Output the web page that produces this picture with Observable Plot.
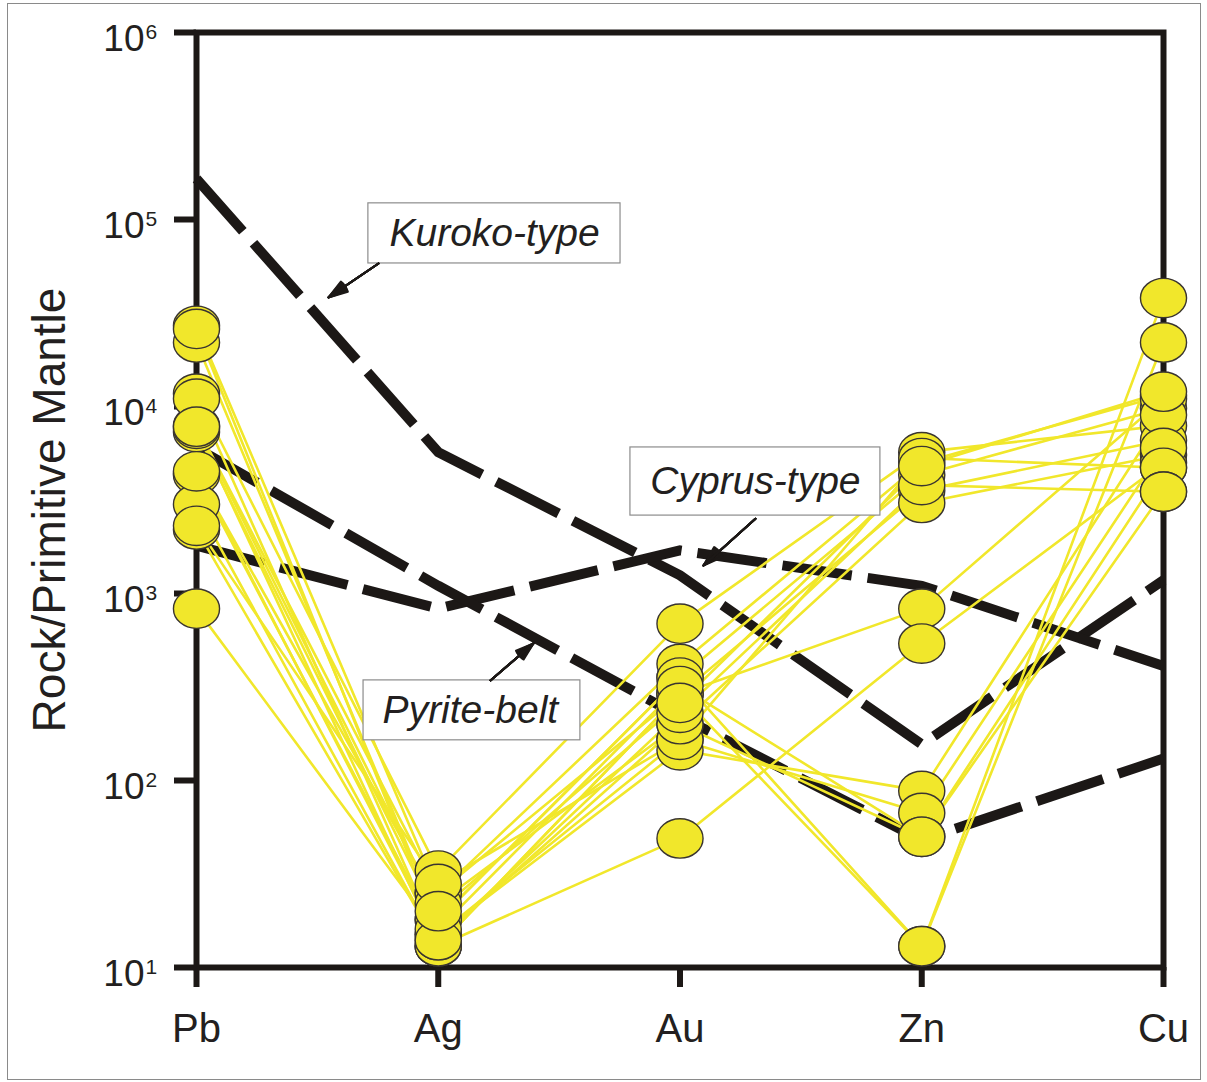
<!DOCTYPE html>
<html><head><meta charset="utf-8">
<script src="https://cdn.jsdelivr.net/npm/d3@7"></script>
<script src="https://cdn.jsdelivr.net/npm/@observablehq/plot@0.6"></script>
<style>
html,body{margin:0;padding:0;background:#fff;}
#wrap{position:relative;width:1207px;height:1082px;overflow:hidden;}
#border{position:absolute;left:7px;top:3px;width:1194px;height:1077px;border:1px solid #8a8a8a;box-sizing:border-box;pointer-events:none;}
#chart{position:absolute;left:0;top:0;}
</style></head><body>
<div id="wrap"><div id="chart"></div><div id="border"></div></div>
<script>
// Categories (x axis)
const elements = ["Pb", "Ag", "Au", "Zn", "Cu"];
// Y-axis decade ticks
const decades = [1e1, 1e2, 1e3, 1e4, 1e5, 1e6];

// Samples: normalized values (Rock / Primitive Mantle) for each element
const pb = [27000, 22000, 11700, 7900, 7300, 7600, 4400, 4300, 3000, 2200, 830, 2300, 4500, 26000, 11000, 7800];
const ag = [25, 18, 33, 25, 18, 13, 22, 15, 13, 13, 15, 28, 14, 16, 14, 20];
const au = [290, 355, 690, 420, 355, 290, 200, 165, 290, 49, 145, 165, 200, 320, 230, 260];
const zn = [13, 13, 5700, 5000, 4300, 3550, 3050, 5300, 830, 540, 88, 67, 50, 50, 3800, 4800];
const cu = [38000, 22000, 7900, 11500, 9800, 6600, 5500, 4700, 11000, 5000, 9000, 6000, 4700, 3500, 3500, 12000];

// Reference deposit-type patterns (dashed lines), values at Pb, Ag, Au, Zn, Cu
const kuroko = [165000, 5700, 1250, 156, 1180];
const cyprus = [1800, 830, 1700, 1100, 410];
const pyrite = [6000, 1100, 220, 48, 131];

// Annotation labels (boxes with arrows), placed in data units (x: element index, y: value)
const notes = ["Kuroko-type", "Cyprus-type", "Pyrite-belt"];
const noteX = [1.233, 2.312, 1.133];
const noteY = [84000, 3970, 237];
const boxX1 = [0.711, 1.795, 0.691];
const boxX2 = [1.754, 2.829, 1.588];
const boxY1 = [122000, 6040, 343];
const boxY2 = [58200, 2610, 164];
const arrowX1 = [0.753, 2.312, 1.216];
const arrowY1 = [58200, 2510, 343];
const arrowX2 = [0.546, 2.097, 1.394];
const arrowY2 = [38300, 1412, 541];

// Build tables
const columns = [pb, ag, au, zn, cu];
const rows = [];
pb.forEach((_, s) => columns.forEach((col, i) => rows.push({sample: s, i, v: col[s]})));
const refRows = [];
[["Kuroko-type", kuroko], ["Cyprus-type", cyprus], ["Pyrite-belt", pyrite]].forEach(([name, vals]) =>
  vals.forEach((v, i) => refRows.push({type: name, i, v})));

// Ellipse symbol (circles in the original are slightly wider than tall)
const ellipse = {
  draw(ctx, size) {
    const r = Math.sqrt(size / Math.PI), rx = r * 1.17, ry = r, k = 0.5523;
    ctx.moveTo(rx, 0);
    ctx.bezierCurveTo(rx, k * ry, k * rx, ry, 0, ry);
    ctx.bezierCurveTo(-k * rx, ry, -rx, k * ry, -rx, 0);
    ctx.bezierCurveTo(-rx, -k * ry, -k * rx, -ry, 0, -ry);
    ctx.bezierCurveTo(k * rx, -ry, rx, -k * ry, rx, 0);
    ctx.closePath();
  }
};

const ink = "#1c1816";
const textInk = "#231f20";
const yellow = "#f1e72b";
const idx = d3.range(notes.length);

// arrow shafts + filled-looking heads (several barb angles layered)
const arrowMarks = [Plot.arrow(idx, {x1: i => arrowX1[i], y1: i => arrowY1[i], x2: i => arrowX2[i], y2: i => arrowY2[i],
  stroke: ink, strokeWidth: 1.8, headLength: 0})];
for (const a of [6, 12, 18, 24, 30, 36]) {
  arrowMarks.push(Plot.arrow(idx, {x1: i => arrowX1[i], y1: i => arrowY1[i], x2: i => arrowX2[i], y2: i => arrowY2[i],
    stroke: ink, strokeWidth: 2, headLength: 16, headAngle: a}));
}

const chart = Plot.plot({
  width: 1207,
  height: 1082,
  marginLeft: 196,
  marginRight: 44,
  marginTop: 32,
  marginBottom: 115,
  style: {fontFamily: "'Liberation Sans', Arial, sans-serif", background: "transparent", color: textInk},
  x: {domain: [0, 4]},
  y: {type: "log", domain: [10, 1e6]},
  marks: [
    Plot.frame({stroke: ink, strokeWidth: 6}),
    Plot.axisX({ticks: [0, 1, 2, 3, 4], tickFormat: i => elements[i], tickSize: 20, tickPadding: 26,
      strokeWidth: 6, stroke: ink, fontSize: 40, fill: textInk, label: null}),
    Plot.axisY({ticks: decades, tickFormat: () => "", tickSize: 22, strokeWidth: 6, stroke: ink, label: null}),
    Plot.text(decades, {y: d => d, frameAnchor: "left", dx: -52, dy: 7, text: () => "10",
      textAnchor: "end", fontSize: 37, fill: textInk}),
    Plot.text(decades, {y: d => d, frameAnchor: "left", dx: -51, dy: 0,
      text: d => String(Math.round(Math.log10(d))), textAnchor: "start", fontSize: 21, fill: textInk}),
    Plot.text(["Rock/Primitive Mantle"], {frameAnchor: "left", dx: -146, dy: 10, rotate: -90,
      textAnchor: "middle", text: d => d, fontSize: 46, fill: textInk}),
    // dashed reference patterns
    Plot.line(refRows, {x: "i", y: "v", z: "type", stroke: ink, strokeWidth: 10,
      strokeDasharray: "70,16", strokeLinecap: "butt", strokeLinejoin: "miter", strokeMiterlimit: 4}),
    // sample patterns
    Plot.line(rows, {x: "i", y: "v", z: "sample", stroke: yellow, strokeWidth: 2.6}),
    Plot.dot(rows, {x: "i", y: "v", r: 19.7, symbol: ellipse, fill: yellow, stroke: "#3a3530", strokeWidth: 1.4}),
    // annotation boxes
    Plot.rect(idx, {x1: i => boxX1[i], x2: i => boxX2[i], y1: i => boxY1[i], y2: i => boxY2[i],
      fill: "white", stroke: "#8c8c8c", strokeWidth: 1.2}),
    ...arrowMarks,
    Plot.text(idx, {x: i => noteX[i], y: i => noteY[i], text: i => notes[i], fontSize: 39,
      fontStyle: "italic", fill: textInk})
  ]
});
document.getElementById("chart").appendChild(chart);
</script>
</body></html>
